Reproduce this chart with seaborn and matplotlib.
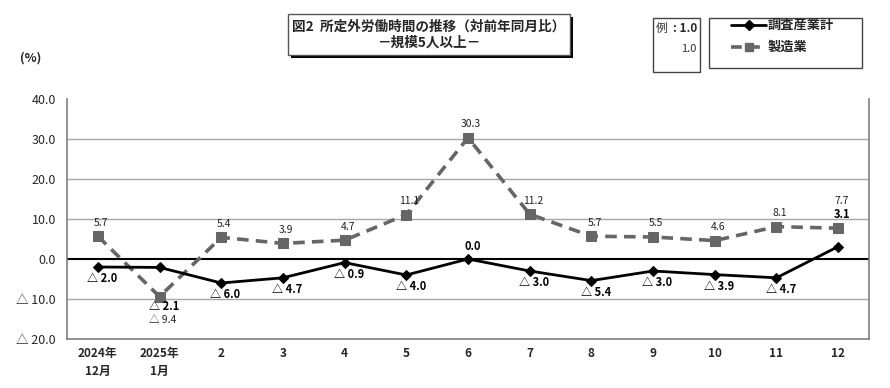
import matplotlib
matplotlib.use("Agg")
import matplotlib.pyplot as plt
import seaborn as sns
import pandas as pd
from matplotlib.patches import Rectangle
from matplotlib.lines import Line2D

# ---- data ----
months = ["2024年\n12月", "2025年\n1月", "2", "3", "4", "5", "6", "7", "8", "9", "10", "11", "12"]
total = [-2.0, -2.1, -6.0, -4.7, -0.9, -4.0, 0.0, -3.0, -5.4, -3.0, -3.9, -4.7, 3.1]
manufacturing = [5.7, -9.4, 5.4, 3.9, 4.7, 11.1, 30.3, 11.2, 5.7, 5.5, 4.6, 8.1, 7.7]
series_names = ["調査産業計", "製造業"]
yticks = [-20, -10, 0, 10, 20, 30, 40]

sns.set_theme(style="white")
plt.rcParams['font.family'] = ['Noto Sans CJK JP', 'DejaVu Sans']

W, H = 890, 388
fig = plt.figure(figsize=(W / 100, H / 100), dpi=100)

def fx(x):
    return x / W

def fy(y):
    return 1 - y / H

ax = fig.add_axes([fx(67), fy(339), fx(869) - fx(67), fy(99) - fy(339)])

df = pd.DataFrame({"idx": list(range(len(months))) * 2,
                   "value": total + manufacturing,
                   "series": [series_names[0]] * len(total) + [series_names[1]] * len(manufacturing)})

# gridlines
for v in yticks:
    if v in (0, 40):
        continue
    ax.axhline(v, color="#a6a6a6", lw=1.0, zorder=0)
ax.axhline(0, color="black", lw=1.5, zorder=1)

sns.lineplot(data=df[df.series == series_names[1]], x="idx", y="value", ax=ax,
             color="#666666", lw=2.6, linestyle=(0, (3.2, 2.0)), marker="s",
             markersize=7, markeredgecolor="#666666", legend=False, zorder=3)
sns.lineplot(data=df[df.series == series_names[0]], x="idx", y="value", ax=ax,
             color="black", lw=2.0, marker="D", markersize=5,
             markeredgecolor="black", legend=False, zorder=4)

ax.set_xlim(-0.5, len(months) - 0.5)
ax.set_ylim(-20, 40)
ax.set_xlabel("")
ax.set_ylabel("")

def fmt(v):
    return f"△ {abs(v):.1f}" if v < 0 else f"{v:.1f}"

ax.set_yticks(yticks)
ax.set_yticklabels([fmt(v) for v in yticks], fontsize=9)
ax.set_xticks(range(len(months)))
ax.set_xticklabels(months, fontsize=8.5, linespacing=1.5, fontweight="bold")
ax.tick_params(axis="x", length=0, pad=6)
ax.tick_params(axis="y", length=0, pad=8)

for s in ["left", "bottom", "right"]:
    ax.spines[s].set_visible(True)
    ax.spines[s].set_color("#7f7f7f")
    ax.spines[s].set_linewidth(1.2)
ax.spines["top"].set_visible(False)

# data labels (positions in data units)
total_label_y = {1: -11.9, 6: 3.0, 12: 11.2}
mfg_label_y = {1: -15.2, 12: 14.5}
for i, v in enumerate(total):
    y = total_label_y.get(i, v + 3.0 if v >= 0 else v - 2.9)
    ax.text(i + 0.07, y, fmt(v), ha="center", va="center", fontsize=8,
            fontweight="bold", color="black", zorder=5)
for i, v in enumerate(manufacturing):
    y = mfg_label_y.get(i, v + 3.4)
    ax.text(i + 0.05, y, fmt(v), ha="center", va="center", fontsize=7.5,
            color="#222222", zorder=5)

# (%) label
fig.text(fx(31), fy(58), "(%)", fontsize=9, ha="center", va="center", fontweight="bold")

# title box with shadow
fig.patches.append(Rectangle((fx(291), fy(58)), fx(573) - fx(291), fy(17) - fy(58),
                             transform=fig.transFigure, facecolor="black", edgecolor="none", zorder=1))
fig.patches.append(Rectangle((fx(288), fy(55)), fx(570) - fx(288), fy(14) - fy(55),
                             transform=fig.transFigure, facecolor="white", edgecolor="#555555", lw=1.0, zorder=2))
fig.text(fx(429), fy(27), "図2  所定外労働時間の推移（対前年同月比）", fontsize=9.8,
         ha="center", va="center", fontweight="bold", zorder=3)
fig.text(fx(429), fy(43), "－規模5人以上－", fontsize=9.8, ha="center", va="center",
         fontweight="bold", zorder=3)

# example box
fig.patches.append(Rectangle((fx(653), fy(72)), fx(700) - fx(653), fy(18) - fy(72),
                             transform=fig.transFigure, facecolor="white", edgecolor="#444444", lw=1.0))
fig.text(fx(656), fy(28), "例", fontsize=8.5, ha="left", va="center", color="#333333")
fig.text(fx(697), fy(28), ": 1.0", fontsize=8.5, ha="right", va="center", fontweight="bold")
fig.text(fx(696), fy(49), "1.0", fontsize=8, ha="right", va="center", color="#333333")

# legend box
fig.patches.append(Rectangle((fx(709), fy(68)), fx(862) - fx(709), fy(18) - fy(68),
                             transform=fig.transFigure, facecolor="white", edgecolor="#444444", lw=1.0))
fig.lines.append(Line2D([fx(731), fx(766)], [fy(25), fy(25)], transform=fig.transFigure,
                        color="black", lw=2.0))
fig.lines.append(Line2D([fx(748.5)], [fy(25)], transform=fig.transFigure, color="black",
                        marker="D", markersize=5, lw=0))
fig.text(fx(768), fy(25), series_names[0], fontsize=9.5, ha="left", va="center", fontweight="bold")
fig.lines.append(Line2D([fx(731), fx(766)], [fy(47), fy(47)], transform=fig.transFigure,
                        color="#666666", lw=2.6, linestyle=(0, (3.0, 2.0))))
fig.lines.append(Line2D([fx(748.5)], [fy(47)], transform=fig.transFigure, color="#666666",
                        marker="s", markersize=6, lw=0))
fig.text(fx(768), fy(47), series_names[1], fontsize=9.5, ha="left", va="center", fontweight="bold")

fig.savefig("out.png", dpi=100)
